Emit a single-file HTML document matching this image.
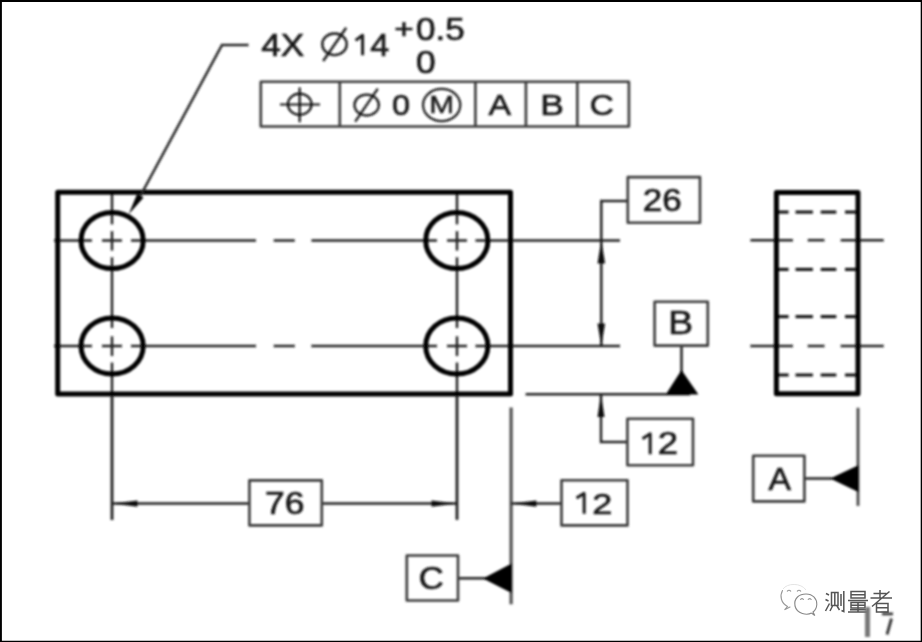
<!DOCTYPE html>
<html><head><meta charset="utf-8"><style>
html,body{margin:0;padding:0;background:#fff;}
svg{display:block;font-family:"Liberation Sans",sans-serif;}
</style></head><body>
<svg width="922" height="642" viewBox="0 0 922 642">
<defs><filter id="bl" x="0" y="0" width="922" height="642" filterUnits="userSpaceOnUse"><feGaussianBlur stdDeviation="0.8"/></filter></defs>
<rect width="922" height="642" fill="#fff"/>
<g filter="url(#bl)">
<path d="M54 240.5H92" stroke="#202020" stroke-width="2.5" fill="none"/><path d="M102 240.5H122" stroke="#202020" stroke-width="2.5" fill="none"/><path d="M131 240.5H256" stroke="#202020" stroke-width="2.5" fill="none"/><path d="M273.7 240.5H294.8" stroke="#202020" stroke-width="2.5" fill="none"/><path d="M311.4 240.5H437" stroke="#202020" stroke-width="2.5" fill="none"/><path d="M447 240.5H467" stroke="#202020" stroke-width="2.5" fill="none"/><path d="M475.5 240.5H620" stroke="#202020" stroke-width="2.5" fill="none"/>
<path d="M54 346.0H92" stroke="#202020" stroke-width="2.5" fill="none"/><path d="M102 346.0H122" stroke="#202020" stroke-width="2.5" fill="none"/><path d="M131 346.0H256" stroke="#202020" stroke-width="2.5" fill="none"/><path d="M273.7 346.0H294.8" stroke="#202020" stroke-width="2.5" fill="none"/><path d="M311.4 346.0H437" stroke="#202020" stroke-width="2.5" fill="none"/><path d="M447 346.0H467" stroke="#202020" stroke-width="2.5" fill="none"/><path d="M475.5 346.0H620" stroke="#202020" stroke-width="2.5" fill="none"/>
<path d="M112 190V224.3" stroke="#202020" stroke-width="2.5" fill="none"/><path d="M112 231.2V250.5" stroke="#202020" stroke-width="2.5" fill="none"/><path d="M112 257.3V328" stroke="#202020" stroke-width="2.5" fill="none"/><path d="M112 336.4V356" stroke="#202020" stroke-width="2.5" fill="none"/><path d="M112 362.6V520" stroke="#202020" stroke-width="2.5" fill="none"/>
<path d="M457 190V224.3" stroke="#202020" stroke-width="2.5" fill="none"/><path d="M457 231.2V250.5" stroke="#202020" stroke-width="2.5" fill="none"/><path d="M457 257.3V328" stroke="#202020" stroke-width="2.5" fill="none"/><path d="M457 336.4V356" stroke="#202020" stroke-width="2.5" fill="none"/><path d="M457 362.6V520" stroke="#202020" stroke-width="2.5" fill="none"/>
<rect x="57.7" y="192.2" width="452.8" height="201.8" stroke="#000" stroke-width="5" fill="none" stroke-linejoin="round"/>
<path d="M81.00 240.50C81.00 224.98 94.92 212.40 112.10 212.40C129.28 212.40 143.20 224.98 143.20 240.50C143.20 256.02 129.28 268.60 112.10 268.60C94.92 268.60 81.00 256.02 81.00 240.50Z" stroke="#000" stroke-width="5" fill="none" stroke-linejoin="round"/>
<path d="M81.00 346.00C81.00 330.48 94.92 317.90 112.10 317.90C129.28 317.90 143.20 330.48 143.20 346.00C143.20 361.52 129.28 374.10 112.10 374.10C94.92 374.10 81.00 361.52 81.00 346.00Z" stroke="#000" stroke-width="5" fill="none" stroke-linejoin="round"/>
<path d="M425.70 240.50C425.70 224.98 439.62 212.40 456.80 212.40C473.98 212.40 487.90 224.98 487.90 240.50C487.90 256.02 473.98 268.60 456.80 268.60C439.62 268.60 425.70 256.02 425.70 240.50Z" stroke="#000" stroke-width="5" fill="none" stroke-linejoin="round"/>
<path d="M425.70 346.00C425.70 330.48 439.62 317.90 456.80 317.90C473.98 317.90 487.90 330.48 487.90 346.00C487.90 361.52 473.98 374.10 456.80 374.10C439.62 374.10 425.70 361.52 425.70 346.00Z" stroke="#000" stroke-width="5" fill="none" stroke-linejoin="round"/>
<path d="M248.5 45H222L140.3 196" stroke="#202020" stroke-width="2.5" fill="none"/>
<path d="M128.7 214.3L137 194.3L143.6 197.6Z" fill="#000"/>
<text transform="matrix(0.3517 0 0 0.3043 261.20 55.60)" font-size="100" fill="#1a1a1a" stroke="#1a1a1a" stroke-width="2.2">4X</text>
<path d="M362.6 55.2V35.2L355.6 40.4" stroke="#1a1a1a" stroke-width="3.0" fill="none" stroke-linejoin="round"/>
<text transform="matrix(0.3412 0 0 0.3088 370.32 55.51)" font-size="100" fill="#1a1a1a" stroke="#1a1a1a" stroke-width="2.2">4</text>
<text transform="matrix(0.3333 0 0 0.2776 394.33 38.10)" font-size="100" fill="#1a1a1a" stroke="#1a1a1a" stroke-width="2.2">+</text>
<text transform="matrix(0.3511 0 0 0.3155 416.10 39.68)" font-size="100" fill="#1a1a1a" stroke="#1a1a1a" stroke-width="2.2">0.5</text>
<text transform="matrix(0.3542 0 0 0.3155 416.08 72.98)" font-size="100" fill="#1a1a1a" stroke="#1a1a1a" stroke-width="2.2">0</text>
<ellipse cx="334.5" cy="44.3" rx="12.2" ry="10.8" stroke="#1a1a1a" stroke-width="2.4" fill="none"/>
<path d="M323.2 61L346.2 27.8" stroke="#1a1a1a" stroke-width="2.4"/>
<rect x="260.8" y="81.8" width="368.1" height="44.7" stroke="#3a3a3a" stroke-width="2.6" fill="none" stroke-linejoin="round"/>
<path d="M339.8 81.8V126.5" stroke="#3a3a3a" stroke-width="2.6" fill="none" stroke-linejoin="round"/>
<path d="M475.4 81.8V126.5" stroke="#3a3a3a" stroke-width="2.6" fill="none" stroke-linejoin="round"/>
<path d="M525.9 81.8V126.5" stroke="#3a3a3a" stroke-width="2.6" fill="none" stroke-linejoin="round"/>
<path d="M577.3 81.8V126.5" stroke="#3a3a3a" stroke-width="2.6" fill="none" stroke-linejoin="round"/>
<ellipse cx="299.7" cy="104.3" rx="11.8" ry="10.6" stroke="#111" stroke-width="2.2" fill="none"/>
<path d="M280 104.5H320M299.7 87.4V122.2" stroke="#111" stroke-width="2.2"/>
<ellipse cx="366.65" cy="105.1" rx="12.2" ry="10.4" stroke="#1a1a1a" stroke-width="2.3" fill="none"/>
<path d="M355.2 121.7L377.8 88.6" stroke="#1a1a1a" stroke-width="2.3"/>
<text transform="matrix(0.3250 0 0 0.2930 392.10 114.91)" font-size="100" fill="#1a1a1a" stroke="#1a1a1a" stroke-width="2.2">0</text>
<ellipse cx="441.65" cy="105" rx="18.6" ry="16.1" stroke="#1a1a1a" stroke-width="2.2" fill="none"/>
<text transform="matrix(0.2985 0 0 0.2319 429.21 112.80)" font-size="100" fill="#1a1a1a" stroke="#1a1a1a" stroke-width="1.8">M</text>
<text transform="matrix(0.3379 0 0 0.2942 488.60 115.30)" font-size="100" fill="#1a1a1a" stroke="#1a1a1a" stroke-width="2.2">A</text>
<text transform="matrix(0.3547 0 0 0.2942 540.16 115.30)" font-size="100" fill="#1a1a1a" stroke="#1a1a1a" stroke-width="2.2">B</text>
<text transform="matrix(0.3333 0 0 0.2958 589.73 115.30)" font-size="100" fill="#1a1a1a" stroke="#1a1a1a" stroke-width="2.2">C</text>
<path d="M112 396V520" stroke="#202020" stroke-width="2.5" fill="none"/>
<path d="M457 396V519" stroke="#202020" stroke-width="2.5" fill="none"/>
<path d="M112 503.6H249.4M321.8 503.6H457" stroke="#202020" stroke-width="2.5" fill="none"/>
<path d="M112 503.6L137.5 500.4L137.5 506.8Z" fill="#111"/>
<path d="M457 503.6L431.5 500.4L431.5 506.8Z" fill="#111"/>
<rect x="249.4" y="480.4" width="72.4" height="45" stroke="#3a3a3a" stroke-width="2.6" fill="none" stroke-linejoin="round"/>
<text transform="matrix(0.3549 0 0 0.3085 265.03 513.89)" font-size="100" fill="#1a1a1a" stroke="#1a1a1a" stroke-width="2.2">76</text>
<path d="M627.8 201.1H601.3V346" stroke="#202020" stroke-width="2.5" fill="none"/>
<path d="M601.3 240.2L597.5 263.4L605.1 263.4Z" fill="#111"/>
<path d="M601.3 346L597.5 323.6L605.1 323.6Z" fill="#111"/>
<rect x="627.8" y="177.1" width="72.2" height="45.7" stroke="#3a3a3a" stroke-width="2.6" fill="none" stroke-linejoin="round"/>
<text transform="matrix(0.3500 0 0 0.3211 642.75 211.48)" font-size="100" fill="#1a1a1a" stroke="#1a1a1a" stroke-width="2.2">26</text>
<path d="M525.6 394.2H690M681.5 345.6V372" stroke="#202020" stroke-width="2.5" fill="none"/>
<path d="M681.5 370L665.8 394.4L698.4 394.4Z" fill="#000"/>
<rect x="654.6" y="301.8" width="53.2" height="43.8" stroke="#3a3a3a" stroke-width="2.6" fill="none" stroke-linejoin="round"/>
<text transform="matrix(0.3717 0 0 0.3232 668.23 334.20)" font-size="100" fill="#1a1a1a" stroke="#1a1a1a" stroke-width="2.2">B</text>
<path d="M601 394V442H627.4" stroke="#202020" stroke-width="2.5" fill="none"/>
<path d="M601 394L597.5 417L604.5 417Z" fill="#111"/>
<rect x="627.4" y="418.7" width="65.6" height="46.5" stroke="#3a3a3a" stroke-width="2.6" fill="none" stroke-linejoin="round"/>
<path d="M650.2 454.2V433.8L642.5 438.8" stroke="#1a1a1a" stroke-width="3.0" fill="none" stroke-linejoin="round"/>
<text transform="matrix(0.3652 0 0 0.3057 657.87 454.20)" font-size="100" fill="#1a1a1a" stroke="#1a1a1a" stroke-width="2.2">2</text>
<path d="M511.1 407.5V604.3" stroke="#555" stroke-width="3.3" fill="none"/>
<path d="M458 578.3H486" stroke="#202020" stroke-width="2.5" fill="none"/>
<path d="M483 578.5L512 563.2L512 593.2Z" fill="#000"/>
<rect x="406.8" y="555.5" width="51.2" height="45" stroke="#3a3a3a" stroke-width="2.6" fill="none" stroke-linejoin="round"/>
<text transform="matrix(0.3460 0 0 0.3085 418.87 588.79)" font-size="100" fill="#1a1a1a" stroke="#1a1a1a" stroke-width="2.2">C</text>
<path d="M511 503.6H561.5" stroke="#202020" stroke-width="2.5" fill="none"/>
<path d="M511 503.6L536.4 500.4L536.4 506.8Z" fill="#111"/>
<rect x="561.5" y="480.3" width="66" height="45.1" stroke="#3a3a3a" stroke-width="2.6" fill="none" stroke-linejoin="round"/>
<path d="M584.2 513.8V493.40000000000003L576.5 498" stroke="#1a1a1a" stroke-width="3.0" fill="none" stroke-linejoin="round"/>
<text transform="matrix(0.3609 0 0 0.3043 592.20 513.80)" font-size="100" fill="#1a1a1a" stroke="#1a1a1a" stroke-width="2.2">2</text>
<path d="M750.4 240.2H792.9" stroke="#202020" stroke-width="2.5" fill="none"/><path d="M807.7 240.2H824.5" stroke="#202020" stroke-width="2.5" fill="none"/><path d="M840.65 240.2H883.7" stroke="#202020" stroke-width="2.5" fill="none"/>
<path d="M750.4 346H792.9" stroke="#202020" stroke-width="2.5" fill="none"/><path d="M807.7 346H824.5" stroke="#202020" stroke-width="2.5" fill="none"/><path d="M840.65 346H883.7" stroke="#202020" stroke-width="2.5" fill="none"/>
<path d="M776 212.1H788.6" stroke="#111" stroke-width="3.0" fill="none"/><path d="M795.5 212.1H812.9" stroke="#111" stroke-width="3.0" fill="none"/><path d="M820.7 212.1H836.3" stroke="#111" stroke-width="3.0" fill="none"/><path d="M845 212.1H858" stroke="#111" stroke-width="3.0" fill="none"/>
<path d="M776 269.4H788.6" stroke="#111" stroke-width="3.0" fill="none"/><path d="M795.5 269.4H812.9" stroke="#111" stroke-width="3.0" fill="none"/><path d="M820.7 269.4H836.3" stroke="#111" stroke-width="3.0" fill="none"/><path d="M845 269.4H858" stroke="#111" stroke-width="3.0" fill="none"/>
<path d="M776 316.6H788.6" stroke="#111" stroke-width="3.0" fill="none"/><path d="M795.5 316.6H812.9" stroke="#111" stroke-width="3.0" fill="none"/><path d="M820.7 316.6H836.3" stroke="#111" stroke-width="3.0" fill="none"/><path d="M845 316.6H858" stroke="#111" stroke-width="3.0" fill="none"/>
<path d="M776 375H788.6" stroke="#111" stroke-width="3.0" fill="none"/><path d="M795.5 375H812.9" stroke="#111" stroke-width="3.0" fill="none"/><path d="M820.7 375H836.3" stroke="#111" stroke-width="3.0" fill="none"/><path d="M845 375H858" stroke="#111" stroke-width="3.0" fill="none"/>
<rect x="776.4" y="192.6" width="81.6" height="201.1" stroke="#000" stroke-width="5" fill="none" stroke-linejoin="round"/>
<path d="M858 407.8V505.9" stroke="#444" stroke-width="2.8" fill="none"/>
<path d="M804.4 478.5H832" stroke="#202020" stroke-width="2.5" fill="none"/>
<path d="M830.2 478.5L858.8 465L858.8 492.3Z" fill="#000"/>
<rect x="753.2" y="455.8" width="51.2" height="45.6" stroke="#3a3a3a" stroke-width="2.6" fill="none" stroke-linejoin="round"/>
<text transform="matrix(0.3364 0 0 0.3145 768.40 489.70)" font-size="100" fill="#1a1a1a" stroke="#1a1a1a" stroke-width="2.2">A</text>
</g>
<path d="M782.5 590.5C779.5 596 781 603 787.5 606.5L784.5 609.8L790 607" stroke="#999" stroke-width="1.1" fill="none" stroke-linecap="round"/>
<path d="M783 589C787 583 801 582.5 806 590" stroke="#e4e4e4" stroke-width="1" fill="none"/>
<path d="M787.3 591.2Q789 589.2 790.7 591.2M797.3 591.2Q799 589.2 800.7 591.2" stroke="#999" stroke-width="1.1" fill="none" stroke-linecap="round"/>
<path d="M811.5 613C807 615.5 797 614 795 606C793.5 598 799.5 594 806 594C813 594 817 599 816.8 604.5C816.6 608 815 610.5 813 612L814.8 615.5L811.5 613" stroke="#888" stroke-width="1.1" fill="none"/>
<path d="M800.5 599.5Q802 597.8 803.5 599.5M808.2 599.5Q809.7 597.8 811.2 599.5" stroke="#999" stroke-width="1.1" fill="none" stroke-linecap="round"/>
<path d="M826 593.5L829 595M825.5 599.5L828.5 601M825.5 611L829.5 603.5M831.5 592.5H838V605.5H831.5ZM834.8 592.5V605M832.5 606L830 611M837 606L839.5 610M841 594V606M843.8 591V611.5L841.5 610.5" stroke="#555" stroke-width="1.5" fill="none"/>
<path d="M851 591.5H865V598H851ZM851 594.8H865M848 600.5H868M851 602.5H865V608H851ZM851 605.2H865M858 602.5V612M850 609.8H866M848 612H868" stroke="#555" stroke-width="1.5" fill="none"/>
<path d="M880 590V598M873.5 593.5H886.5M870.5 598H892M889.5 591.5L872 606.5M876.5 603.5H888V612H876.5ZM876.5 607.8H888" stroke="#555" stroke-width="1.5" fill="none"/>
<g filter="url(#bl)"><path d="M867.5 607V637" stroke="#777" stroke-width="5" fill="none"/><path d="M882 613.8H893M891.5 618.5L887 634.5" stroke="#333" stroke-width="2.8" fill="none"/></g>
<path d="M0 0H922V1.9H0ZM0 0H1.9V642H0ZM920.7 0H922V642H920.7ZM0 640.7H922V642H0Z" fill="#000"/>
</svg>
</body></html>
